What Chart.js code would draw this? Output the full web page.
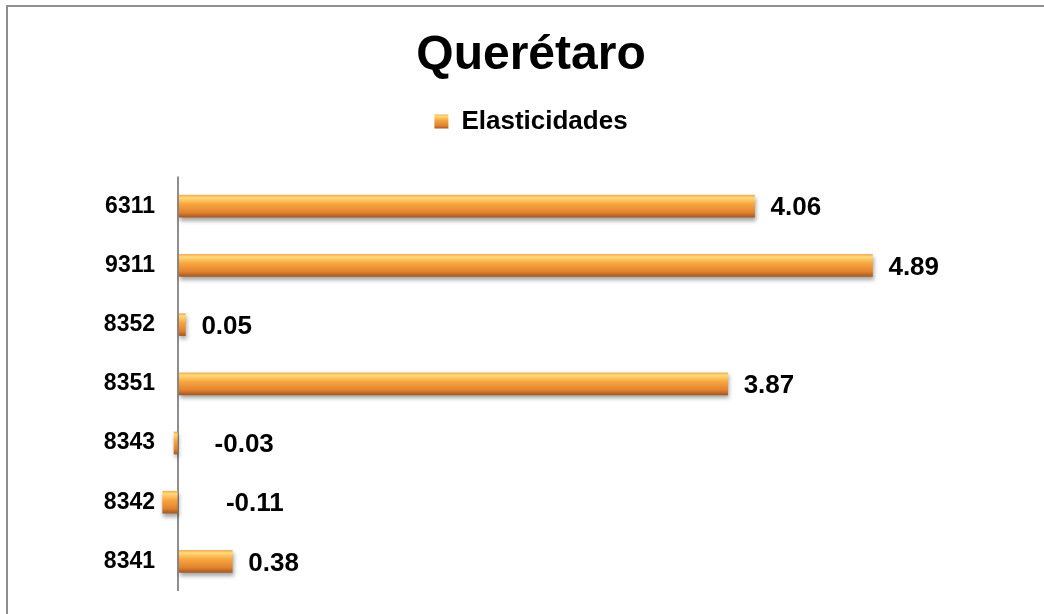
<!DOCTYPE html>
<html>
<head>
<meta charset="utf-8">
<script src="https://cdn.jsdelivr.net/npm/chart.js@4"></script>
<style>
  body { margin: 0; background: #fff; overflow: hidden; }
  .frame { position: absolute; left: 6px; top: 5px; width: 1060px; height: 630px; border: 2px solid #8e8e8e; }
  .wrap { position: absolute; left: 0; top: 0; width: 1044px; height: 614px; }
</style>
</head>
<body>
<div class="frame"></div>
<div class="wrap"><canvas id="chart"></canvas></div>
<script>
const categories = ["6311", "9311", "8352", "8351", "8343", "8342", "8341"];
const elasticidades = [4.06, 4.89, 0.05, 3.87, -0.03, -0.11, 0.38];
const seriesName = "Elasticidades";
const chartTitle = "Querétaro";

const FONT = "'Liberation Sans', Arial, sans-serif";

// orange bevel look, one vertical gradient per bar
function orangeGradient(c, top, bottom) {
  if (!isFinite(top) || !isFinite(bottom)) return "#F29A38";
  const g = c.createLinearGradient(0, top, 0, bottom);
  g.addColorStop(0, "#F4B058");
  g.addColorStop(0.12, "#FFDA78");
  g.addColorStop(0.4, "#F8A640");
  g.addColorStop(0.78, "#E2832F");
  g.addColorStop(1, "#A65A22");
  return g;
}

function barFill(context) {
  const chart = context.chart;
  const y = chart.scales.y;
  const cy = y && context.type === "data" ? y.getPixelForValue(context.dataIndex) : NaN;
  return orangeGradient(chart.ctx, cy - 11, cy + 11);
}

// extra room between legend and plot
const legendGap = {
  id: "legendGap",
  beforeInit(chart) {
    const fit = chart.legend.fit;
    chart.legend.fit = function () {
      fit.bind(chart.legend)();
      this.height += 32;
    };
  }
};

const barShadow = {
  id: "barShadow",
  beforeDatasetsDraw(chart) {
    const c = chart.ctx;
    c.save();
    c.shadowColor = "rgba(0,0,0,0.35)";
    c.shadowOffsetY = 3;
    c.shadowOffsetX = 1;
    c.shadowBlur = 4;
  },
  afterDatasetsDraw(chart) {
    chart.ctx.restore();
  }
};

const valueLabels = {
  id: "valueLabels",
  afterDatasetsDraw(chart) {
    const c = chart.ctx;
    const x = chart.scales.x;
    const meta = chart.getDatasetMeta(0);
    c.save();
    c.font = "bold 26px " + FONT;
    c.fillStyle = "#000";
    c.textAlign = "left";
    c.textBaseline = "middle";
    meta.data.forEach((bar, i) => {
      const v = elasticidades[i];
      const px = v >= 0 ? bar.x + 16 : x.getPixelForValue(-v) + 32;
      c.fillText(v.toFixed(2), px, bar.y + 2);
    });
    c.restore();
  }
};

new Chart(document.getElementById("chart"), {
  type: "bar",
  data: {
    labels: categories,
    datasets: [{
      label: seriesName,
      data: elasticidades,
      backgroundColor: barFill,
      borderWidth: 0,
      barThickness: 22,
      clip: false
    }]
  },
  plugins: [legendGap, barShadow, valueLabels],
  options: {
    indexAxis: "y",
    responsive: true,
    maintainAspectRatio: false,
    animation: false,
    layout: { padding: { top: 27, left: 32, right: 14, bottom: 23 } },
    plugins: {
      title: {
        display: true,
        text: chartTitle,
        color: "#000",
        font: { family: FONT, size: 48, weight: "bold" },
        padding: { top: 0, bottom: 0 }
      },
      legend: {
        display: true,
        labels: {
          color: "#000",
          font: { family: FONT, size: 26, weight: "bold" },
          boxWidth: 14,
          boxHeight: 14,
          padding: 24,
          generateLabels(chart) {
            const items = Chart.defaults.plugins.legend.labels.generateLabels(chart);
            const lg = chart.legend;
            const top = lg && isFinite(lg.top) ? lg.top + 24 + 6 : NaN;
            items.forEach((it) => {
              it.fillStyle = orangeGradient(chart.ctx, top, top + 14);
              it.lineWidth = 0;
            });
            return items;
          }
        }
      },
      tooltip: { enabled: false }
    },
    scales: {
      x: {
        min: -0.15,
        max: 6,
        afterBuildTicks(scale) { scale.ticks = [{ value: 0 }]; },
        ticks: { display: false },
        border: { display: false },
        grid: {
          drawTicks: false,
          lineWidth: 2,
          color: "#8e8e8e"
        }
      },
      y: {
        afterFit(scale) { scale.width = 125; },
        border: { display: false },
        grid: { display: false, drawTicks: false },
        ticks: {
          color: "#000",
          padding: 2,
          font: { family: FONT, size: 23, weight: "bold" }
        }
      }
    }
  }
});
</script>
</body>
</html>
